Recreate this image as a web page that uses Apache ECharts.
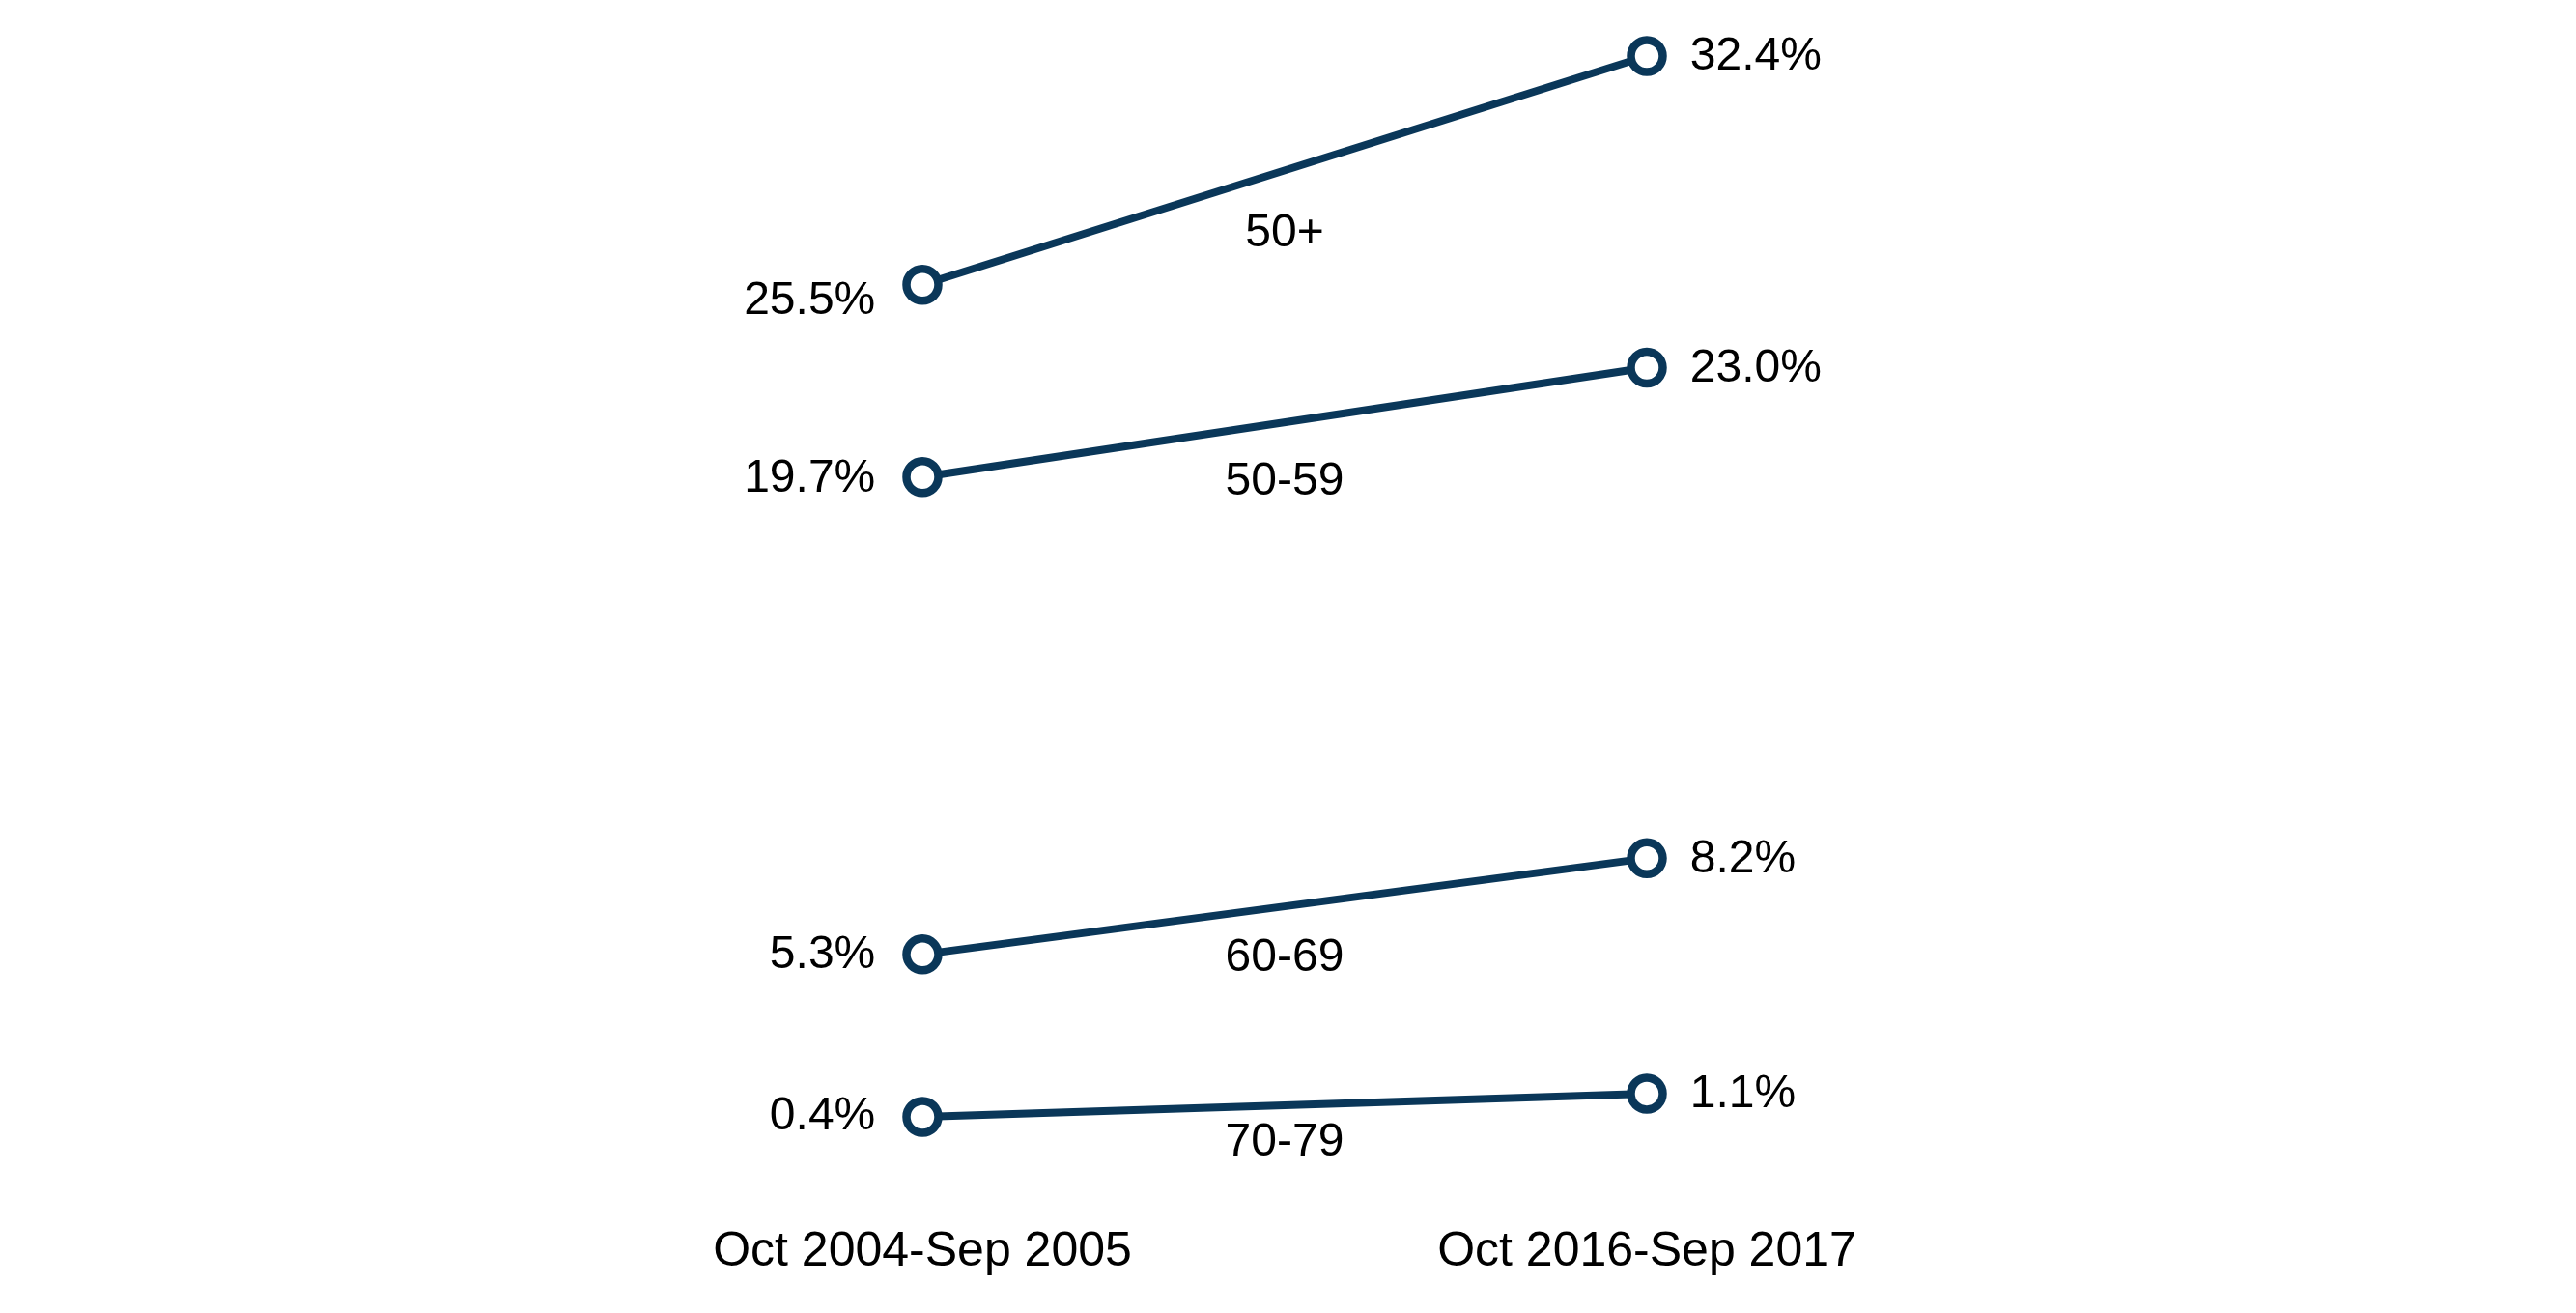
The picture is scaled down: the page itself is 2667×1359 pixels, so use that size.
<!DOCTYPE html>
<html>
<head>
<meta charset="utf-8">
<script src="https://cdn.jsdelivr.net/npm/echarts@6/dist/echarts.min.js"></script>
<style>
html,body{margin:0;padding:0;background:#fff;}
#chart{width:2667px;height:1359px;}
</style>
</head>
<body>
<div id="chart"></div>
<script>
// ---- data ----
const periods = ['Oct 2004-Sep 2005', 'Oct 2016-Sep 2017'];
const groups = ['50+', '50-59', '60-69', '70-79'];
const start2005 = [25.5, 19.7, 5.3, 0.4];
const end2017 = [32.4, 23.0, 8.2, 1.1];

// ---- styles ----
const COLOR = '#0a3759';
const FONT = 'Liberation Sans, Arial, sans-serif';
const groupLabelOffset = [65, 62, 54, 39];
const leftLabelOffset = [17, 2, 1, 0];

const chart = echarts.init(document.getElementById('chart'));

const series = groups.map((g, i) => {
  const mid = (start2005[i] + end2017[i]) / 2;
  return {
    type: 'line',
    name: g,
    data: [
      { value: [0, start2005[i]], label: { position: 'left', distance: 28, offset: [0, leftLabelOffset[i]] } },
      { value: [1, end2017[i]], label: { position: 'right', distance: 24, offset: [0, 1] } }
    ],
    symbol: 'circle',
    symbolSize: 33,
    showAllSymbol: true,
    lineStyle: { color: COLOR, width: 8 },
    itemStyle: { color: '#fff', borderColor: COLOR, borderWidth: 8.5 },
    label: {
      show: true,
      formatter: p => p.value[1].toFixed(1) + '%',
      color: '#000',
      fontFamily: FONT,
      fontSize: 48
    },
    emphasis: { disabled: true },
    animation: false,
    z: 2,
    markPoint: {
      symbol: 'circle',
      symbolSize: 0,
      silent: true,
      animation: false,
      data: [{ coord: [0.5, mid], value: g }],
      label: {
        show: true,
        position: 'inside',
        formatter: () => g,
        offset: [0, groupLabelOffset[i]],
        color: '#000',
        fontFamily: FONT,
        fontSize: 48
      }
    }
  };
});

chart.setOption({
  backgroundColor: '#fff',
  animation: false,
  grid: { left: 955, right: 962, top: 58, bottom: 189.3, containLabel: false },
  xAxis: {
    type: 'value',
    min: 0,
    max: 1,
    interval: 1,
    axisLine: { show: false },
    axisTick: { show: false },
    splitLine: { show: false },
    axisLabel: {
      margin: 102,
      formatter: v => periods[v] || '',
      color: '#000',
      fontFamily: FONT,
      fontSize: 50
    }
  },
  yAxis: {
    type: 'value',
    min: 0,
    max: v => v.max,
    show: false,
    splitLine: { show: false }
  },
  series: series
});
</script>
</body>
</html>
